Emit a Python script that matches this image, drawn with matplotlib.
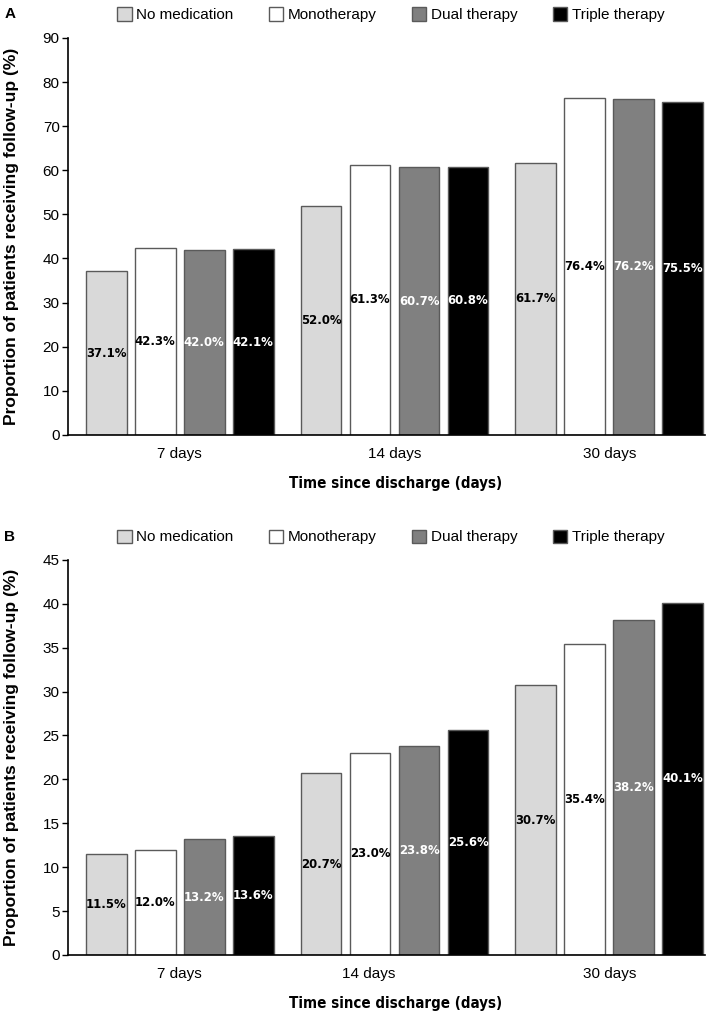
import numpy as np
import matplotlib.pyplot as plt
from matplotlib.patches import Patch

groups = ['7 days', '14 days', '30 days']
series = ['No medication', 'Monotherapy', 'Dual therapy', 'Triple therapy']
colors = ['#d9d9d9', '#ffffff', '#808080', '#000000']
text_colors = ['black', 'black', 'white', 'white']

vals_a = [[37.1, 52.0, 61.7],
          [42.3, 61.3, 76.4],
          [42.0, 60.7, 76.2],
          [42.1, 60.8, 75.5]]
vals_b = [[11.5, 20.7, 30.7],
          [12.0, 23.0, 35.4],
          [13.2, 23.8, 38.2],
          [13.6, 25.6, 40.1]]

plt.rcParams['font.family'] = ['Liberation Sans', 'DejaVu Sans']
narrow = dict(family='DejaVu Sans', fontstretch='condensed')

fig = plt.figure(figsize=(7.09, 10.13), dpi=100)
ax_a = fig.add_axes([0.0959, 0.5706, 0.8984, 0.392])
ax_b = fig.add_axes([0.0959, 0.0573, 0.8984, 0.390])

pitch = 0.228
width = 0.19
x = np.arange(len(groups))


def draw(ax, vals, ymax, ystep, tick_x):
    for i, s in enumerate(series):
        xs = x + (i - 1.5) * pitch
        bars = ax.bar(xs, vals[i], width, color=colors[i], edgecolor='#5a5a5a',
                      linewidth=1.0, label=s, zorder=2)
        for b, v in zip(bars, vals[i]):
            ax.text(b.get_x() + b.get_width() / 2, v / 2, f'{v:.1f}%',
                    ha='center', va='center', color=text_colors[i],
                    fontsize=9.4, fontweight='bold', zorder=3, **narrow)
    ax.set_xlim(-0.52, 2.445)
    ax.set_ylim(0, ymax)
    ax.set_yticks(np.arange(0, ymax + 0.1, ystep))
    ax.set_xticks(tick_x)
    ax.set_xticklabels(groups, fontsize=11)
    ax.tick_params(axis='x', length=0, pad=9)
    ax.tick_params(axis='y', labelsize=11, length=4, width=1, pad=2)
    for sp in ['top', 'right']:
        ax.spines[sp].set_visible(False)
    ax.spines['left'].set_linewidth(1.2)
    ax.spines['bottom'].set_linewidth(1.2)
    ax.set_ylabel('Proportion of patients receiving follow-up (%)',
                  fontsize=12.5, fontweight='bold')
    ax.yaxis.set_label_coords(-0.077, 0.5)
    ax.set_xlabel('Time since discharge (days)', fontsize=10.8,
                  fontweight='bold', **narrow)
    ax.xaxis.set_label_coords(0.515, -0.104)
    handles = [Patch(facecolor=c, edgecolor='#5a5a5a', linewidth=1.0) for c in colors]
    ax.legend(handles, series, loc='center', bbox_to_anchor=(0.507, 1.058),
              ncol=4, frameon=False, fontsize=11, handlelength=0.95,
              handleheight=0.95, handletextpad=0.3, columnspacing=2.3)


draw(ax_a, vals_a, 90, 10, x)
draw(ax_b, vals_b, 45, 5, [0, 0.88, 2])

fig.text(0.006, 1 - 14 / 1013, 'A', fontsize=11, fontweight='bold', va='center')
fig.text(0.006, 1 - 537 / 1013, 'B', fontsize=11, fontweight='bold', va='center')

fig.savefig('out.png', dpi=100)
